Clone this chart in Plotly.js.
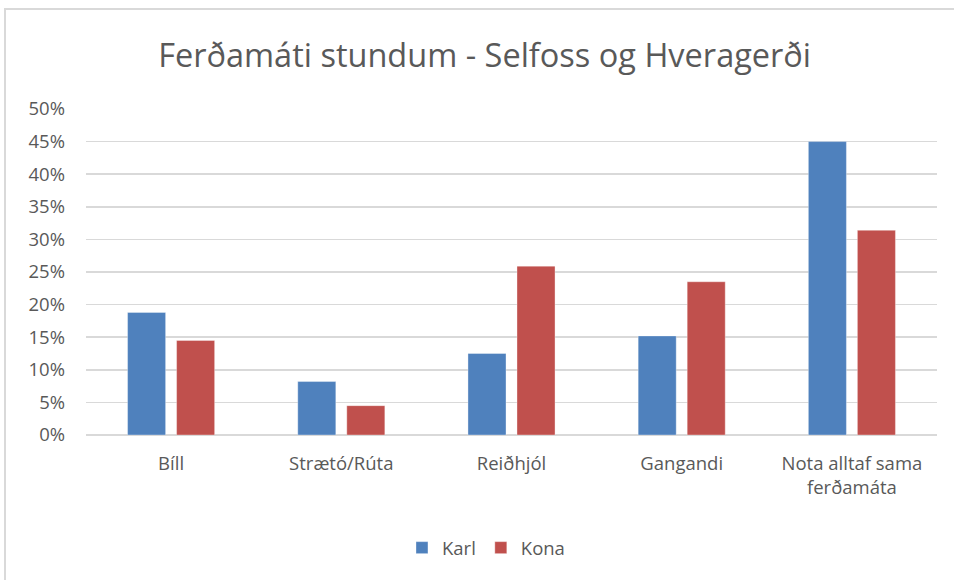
<!DOCTYPE html>
<html>
<head>
<meta charset="utf-8">
<script src="https://cdn.plot.ly/plotly-3.0.1.min.js"></script>
<style>
  html, body { margin: 0; padding: 0; background: #fff; }
  #wrap { position: relative; width: 954px; height: 580px; }
  #chart { width: 954px; height: 580px; }
  #frame { position: absolute; left: 4px; top: 8px; right: 0; bottom: 0;
           border-top: 2px solid #d9d9d9; border-left: 2px solid #d9d9d9; pointer-events: none; }
</style>
</head>
<body>
<div id="wrap">
  <div id="chart"></div>
  <div id="frame"></div>
</div>
<script>
const categories = ["Bíll", "Strætó/Rúta", "Reiðhjól", "Gangandi", "Nota alltaf sama<br>ferðamáta"];
const karl = [0.188, 0.082, 0.125, 0.152, 0.450];
const kona = [0.145, 0.045, 0.259, 0.235, 0.314];
const yTicks = [0, 0.05, 0.10, 0.15, 0.20, 0.25, 0.30, 0.35, 0.40, 0.45, 0.50];
const yTickLabels = ["0%", "5%", "10%", "15%", "20%", "25%", "30%", "35%", "40%", "45%", "50%"];

const fontFam = "'Open Sans', sans-serif";
const traces = [
  { type: "bar", name: "Karl", x: categories, y: karl,
    marker: { color: "#4F81BD", line: { color: "rgba(255,255,255,0.35)", width: 1 } } },
  { type: "bar", name: "Kona", x: categories, y: kona,
    marker: { color: "#C0504D", line: { color: "rgba(255,255,255,0.35)", width: 1 } } }
];
const layout = {
  width: 954, height: 580,
  margin: { l: 86, r: 17, t: 109, b: 145 },
  paper_bgcolor: "rgba(0,0,0,0)", plot_bgcolor: "#fff",
  font: { family: fontFam, color: "#595959", size: 18.5 },
  title: { text: "Ferðamáti stundum - Selfoss og Hveragerði",
           font: { family: fontFam, size: 32.5, color: "#595959" },
           x: 0.508, xanchor: "center", y: 1 - 56 / 580, yref: "container", yanchor: "middle" },
  barmode: "group", bargap: 0.424, bargroupgap: 0.224,
  xaxis: { type: "category", showgrid: false, showline: false, ticks: "",
           ticklabelstandoff: 15, tickfont: { size: 18.5, color: "#595959" } },
  yaxis: { range: [0, 0.5], tickvals: yTicks, ticktext: yTickLabels,
           showgrid: true, gridcolor: "#d9d9d9", gridwidth: 1.5,
           zeroline: true, zerolinecolor: "#d9d9d9", zerolinewidth: 1.5,
           showline: false, ticks: "", ticklabelstandoff: 20,
           tickfont: { size: 18.5, color: "#595959" } },
  legend: { orientation: "h", x: 0.47, xanchor: "center", y: -0.347, yanchor: "middle",
            font: { size: 18.5, color: "#595959" }, itemwidth: 30, traceorder: "normal" },
  showlegend: true
};
Plotly.newPlot("chart", traces, layout, { displayModeBar: false, staticPlot: true });
</script>
</body>
</html>
